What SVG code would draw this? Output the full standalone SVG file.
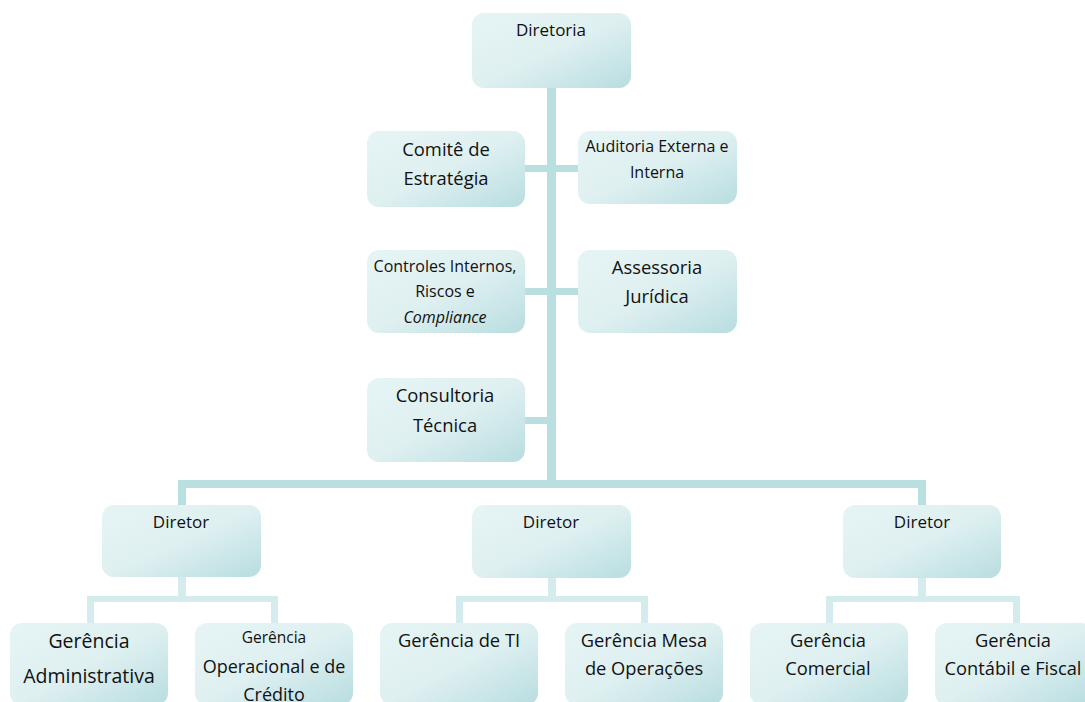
<svg xmlns="http://www.w3.org/2000/svg" width="1085" height="702" viewBox="0 0 1085 702">
<style>
.box{fill:url(#g);}
.t{font-family:"Open Sans",Lato,"Liberation Sans",sans-serif;fill:#111;text-anchor:middle;}
.main{fill:#b9dfe1;}
.sub{fill:#d5ecee;}
</style>
<defs>
<linearGradient id="g" x1="0" y1="0" x2="1" y2="1">
<stop offset="0" stop-color="#e6f4f5"/>
<stop offset="0.5" stop-color="#dff0f1"/>
<stop offset="1" stop-color="#b8dde0"/>
</linearGradient>
</defs>
<rect width="1085" height="702" fill="#fff"/>
<g id="connectors">
<rect class="main" x="547" y="88" width="9" height="400"/>
<rect class="main" x="525" y="165" width="22" height="7"/>
<rect class="main" x="556" y="165" width="22" height="7"/>
<rect class="main" x="525" y="288" width="22" height="7"/>
<rect class="main" x="556" y="288" width="22" height="7"/>
<rect class="main" x="525" y="417" width="22" height="7"/>
<rect class="main" x="178" y="480" width="748" height="8"/>
<rect class="main" x="178" y="480" width="8" height="25"/>
<rect class="main" x="918" y="480" width="8" height="25"/>
<rect class="sub" x="178" y="577" width="8" height="25"/>
<rect class="sub" x="87" y="596" width="191" height="6"/>
<rect class="sub" x="87" y="596" width="7" height="27"/>
<rect class="sub" x="271" y="596" width="7" height="27"/>
<rect class="sub" x="548" y="578" width="8" height="24"/>
<rect class="sub" x="456" y="596" width="192" height="6"/>
<rect class="sub" x="456" y="596" width="7" height="27"/>
<rect class="sub" x="641" y="596" width="7" height="27"/>
<rect class="sub" x="918" y="578" width="8" height="24"/>
<rect class="sub" x="826" y="596" width="194" height="6"/>
<rect class="sub" x="826" y="596" width="7" height="27"/>
<rect class="sub" x="1013" y="596" width="7" height="27"/>
</g>
<g id="diretoria"><rect class="box" x="472" y="13" width="159" height="75" rx="12"/><text class="t" x="551" y="36" font-size="17">Diretoria</text></g>
<g id="comite"><rect class="box" x="367" y="131" width="158" height="76" rx="12"/><text class="t" x="446" y="156" font-size="18.4">Comitê de</text><text class="t" x="446" y="185" font-size="18.4">Estratégia</text></g>
<g id="auditoria"><rect class="box" x="578" y="131" width="159" height="73" rx="12"/><text class="t" x="657" y="152" font-size="16">Auditoria Externa e</text><text class="t" x="657" y="178" font-size="16">Interna</text></g>
<g id="controles"><rect class="box" x="367" y="250" width="158" height="83" rx="12"/><text class="t" x="445" y="272" font-size="16">Controles Internos,</text><text class="t" x="445" y="297" font-size="16">Riscos e</text><text class="t" x="445" y="323" font-size="16" font-style="italic">Compliance</text></g>
<g id="assessoria"><rect class="box" x="578" y="250" width="159" height="83" rx="12"/><text class="t" x="657" y="274" font-size="18.4">Assessoria</text><text class="t" x="657" y="303" font-size="18.4">Jurídica</text></g>
<g id="consultoria"><rect class="box" x="367" y="378" width="158" height="84" rx="12"/><text class="t" x="445" y="402" font-size="18.4">Consultoria</text><text class="t" x="445" y="432" font-size="18.4">Técnica</text></g>
<g id="diretor1"><rect class="box" x="102" y="505" width="159" height="72" rx="12"/><text class="t" x="181" y="528" font-size="17">Diretor</text></g>
<g id="diretor2"><rect class="box" x="472" y="505" width="159" height="73" rx="12"/><text class="t" x="551" y="528" font-size="17">Diretor</text></g>
<g id="diretor3"><rect class="box" x="843" y="505" width="158" height="73" rx="12"/><text class="t" x="922" y="528" font-size="17">Diretor</text></g>
<g id="ger-adm"><rect class="box" x="10" y="623" width="158" height="82" rx="12"/><text class="t" x="89" y="648" font-size="19.5">Gerência</text><text class="t" x="89" y="683" font-size="19.5">Administrativa</text></g>
<g id="ger-op"><rect class="box" x="195" y="623" width="158" height="82" rx="12"/><text class="t" x="274" y="643" font-size="15.5">Gerência</text><text class="t" x="274" y="673" font-size="18">Operacional e de</text><text class="t" x="274" y="701" font-size="18">Crédito</text></g>
<g id="ger-ti"><rect class="box" x="380" y="623" width="158" height="82" rx="12"/><text class="t" x="459" y="647" font-size="18.3">Gerência de TI</text></g>
<g id="ger-mesa"><rect class="box" x="565" y="623" width="158" height="82" rx="12"/><text class="t" x="644" y="647" font-size="18.3">Gerência Mesa</text><text class="t" x="644" y="675" font-size="18.3">de Operações</text></g>
<g id="ger-com"><rect class="box" x="750" y="623" width="158" height="82" rx="12"/><text class="t" x="828" y="647" font-size="18.3">Gerência</text><text class="t" x="828" y="675" font-size="18.3">Comercial</text></g>
<g id="ger-cont"><rect class="box" x="935" y="623" width="158" height="82" rx="12"/><text class="t" x="1013" y="647" font-size="18.3">Gerência</text><text class="t" x="1013" y="675" font-size="18.3">Contábil e Fiscal</text></g>
</svg>
